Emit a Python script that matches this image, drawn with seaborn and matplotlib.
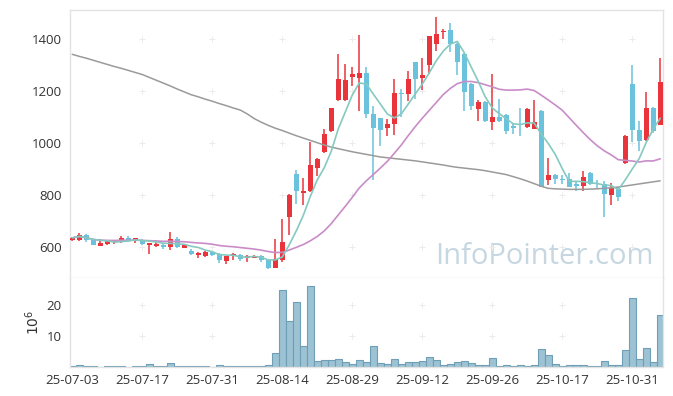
import numpy as np
import pandas as pd
import matplotlib
matplotlib.use("Agg")
import matplotlib.pyplot as plt
import seaborn as sns

# ---------------- data ----------------
start_date = "2025-07-03"
end_date = "2025-11-06"
holidays = ["2025-08-15", "2025-10-03", "2025-10-06", "2025-10-07",
            "2025-10-08", "2025-10-09"]

open_ = [624, 624, 645, 624, 604, 611, 616, 616, 632, 627,
         627, 608, 604, 607, 598, 630, 596, 583, 567, 562,
         580, 573, 546, 563, 568, 555, 558, 562, 550, 519,
         550, 716, 880, 808, 813, 903, 964, 1045, 1165, 1165,
         1254, 1250, 1270, 1112, 1097, 1057, 1072, 1192, 1190, 1314,
         1252, 1301, 1383, 1428, 1435, 1383, 1344, 1228, 1132, 1157,
         1080, 1099, 1106, 1067, 1075, 1061, 1054, 1125, 857, 877,
         860, 861, 841, 834, 885, 843, 841, 798, 822, 921,
         1228, 1050, 1012, 1135, 1071]
high = [639, 654, 647, 628, 628, 626, 627, 641, 641, 635,
        630, 615, 618, 609, 658, 637, 610, 590, 581, 582,
        585, 576, 565, 574, 573, 568, 567, 567, 551, 628,
        707, 803, 895, 865, 1003, 941, 1052, 1135, 1342, 1306,
        1293, 1418, 1293, 1144, 1097, 1092, 1248, 1208, 1277, 1314,
        1328, 1411, 1487, 1441, 1461, 1385, 1346, 1230, 1164, 1160,
        1267, 1170, 1110, 1072, 1135, 1135, 1166, 1127, 942, 880,
        877, 884, 848, 890, 888, 857, 854, 844, 831, 1030,
        1299, 1086, 1196, 1139, 1328]
low = [621, 621, 618, 605, 602, 607, 612, 613, 618, 613,
       605, 571, 600, 591, 586, 596, 594, 569, 555, 560,
       565, 535, 532, 547, 543, 542, 555, 542, 515, 517,
       540, 644, 766, 760, 810, 874, 962, 1043, 1163, 1163,
       1221, 1125, 1097, 857, 990, 1028, 1031, 1100, 1160, 1170,
       1203, 1267, 1355, 1400, 1351, 1261, 1125, 1128, 1086, 1080,
       1050, 1080, 1035, 1035, 1028, 1058, 1052, 830, 839, 842,
       842, 830, 816, 816, 838, 828, 715, 761, 777, 918,
       1002, 970, 1008, 1040, 1071]
close = [634, 645, 624, 608, 613, 621, 622, 632, 622, 632,
         609, 614, 612, 598, 630, 600, 605, 573, 576, 580,
         569, 549, 564, 571, 551, 562, 564, 547, 519, 551,
         618, 800, 816, 816, 916, 939, 1035, 1133, 1248, 1241,
         1266, 1271, 1110, 1057, 1050, 1074, 1191, 1187, 1248, 1246,
         1261, 1411, 1419, 1433, 1383, 1312, 1196, 1141, 1157, 1084,
         1099, 1084, 1045, 1057, 1070, 1132, 1080, 832, 877, 860,
         857, 832, 834, 870, 841, 840, 803, 825, 790, 1028,
         1050, 1006, 1135, 1048, 1237]
volume = [0.2, 0.5, 0.2, 0.2, 0.03, 0.2, 0.2, 0.2, 0.03, 0.2,
          0.2, 0.9, 0.2, 0.2, 1.2, 0.2, 0.2, 0.2, 0.2, 0.2,
          0.03, 0.5, 0.2, 0.2, 0.2, 0.2, 0.2, 0.2, 0.4, 4.5,
          24.9, 14.8, 21.0, 6.7, 26.2, 1.7, 2.2, 2.2, 2.5, 1.5,
          0.9, 2.1, 1.5, 6.7, 1.2, 0.9, 2.4, 0.9, 1.5, 1.5,
          1.8, 3.0, 2.2, 0.5, 0.9, 1.5, 1.7, 1.1, 0.4, 0.4,
          2.7, 0.1, 0.4, 0.1, 0.4, 0.1, 0.4, 5.7, 3.7, 0.8,
          0.1, 0.4, 0.4, 0.4, 0.1, 0.1, 1.7, 0.4, 0.4, 5.3,
          22.3, 2.4, 6.0, 1.4, 16.7]
# 120-day moving average (needs earlier history)
ma120 = [1342, 1334, 1327, 1319, 1311, 1303, 1295, 1288, 1280, 1272,
         1264, 1253, 1242, 1231, 1220, 1208, 1197, 1186, 1178, 1169,
         1161, 1152, 1144, 1135, 1127, 1112, 1094, 1080, 1068, 1057,
         1048, 1038, 1028, 1019, 1010, 1001, 992, 984, 978, 972,
         966, 961, 956, 951, 946, 943, 940, 937, 934, 931,
         927, 923, 919, 915, 910, 906, 903, 900, 897, 893,
         888, 883, 878, 870, 862, 853, 843, 833, 825, 823,
         822, 821, 821, 821, 822, 823, 825, 827, 830, 834,
         838, 842, 846, 850, 854]
yticks_main = [600, 800, 1000, 1200, 1400]
yticks_vol = [10, 20]

# ---------------- derived ----------------
dates = [d for d in pd.bdate_range(start_date, end_date)
         if d.strftime("%Y-%m-%d") not in holidays]
df = pd.DataFrame({"date": dates, "open": open_, "high": high, "low": low,
                   "close": close, "volume": volume, "ma120": ma120})
df["idx"] = np.arange(len(df))
df["ma5"] = df["close"].rolling(5, min_periods=1).mean()
df["ma20"] = df["close"].rolling(20, min_periods=1).mean()
tick_idx = list(range(0, len(df), 10))
tick_lbl = [df["date"][i].strftime("%y-%m-%d") for i in tick_idx]

# ---------------- style ----------------
sns.set_theme(style="white")
plt.rcParams["font.family"] = ["Open Sans", "DejaVu Sans"]
RED = "#e8343a"
BLUE = "#6bc2dc"
SPINE = "#e3e3e3"
TXT = "#333333"

fig = plt.figure(figsize=(6.73, 3.96), dpi=100)
W, H = 673, 396
L, R = 69.5, 663.0
ax = fig.add_axes([L / W, 1 - 278 / H, (R - L) / W, (278 - 10) / H])
axv = fig.add_axes([L / W, 1 - 366.7 / H, (R - L) / W, (366.7 - 278) / H], sharex=ax)

# candles
up = df["close"] >= df["open"]
colors = np.where(up, RED, BLUE)
body_lo = np.minimum(df["open"], df["close"])
body_h = np.maximum(np.abs(df["close"] - df["open"]), 2.0)
ax.vlines(df["idx"], df["low"], df["high"], colors=colors, lw=1.1, zorder=2)
ax.bar(df["idx"], body_h, bottom=body_lo, width=0.72, color=colors,
       linewidth=0, zorder=3)

# moving averages
sns.lineplot(data=df, x="idx", y="ma120", ax=ax, color="#9a9a9a", lw=1.1, zorder=4)
sns.lineplot(data=df, x="idx", y="ma20", ax=ax, color="#c98cc8", lw=1.2, zorder=4)
sns.lineplot(data=df, x="idx", y="ma5", ax=ax, color="#85c9c0", lw=1.2, zorder=4)

ax.set_xlim(-0.4, 84.4)
ax.set_ylim(479, 1513)
ax.set_yticks(yticks_main)
ax.set_xticks(tick_idx)
ax.tick_params(axis="x", labelbottom=False)
ax.set_xlabel("")
ax.set_ylabel("")

# grid crosses
gx, gy = np.meshgrid(tick_idx[1:], yticks_main)
ax.scatter(gx.ravel(), gy.ravel(), marker="+", s=18, color="#ebebeb",
           linewidths=0.7, zorder=1)

ax.text(0.80, 0.08, "InfoPointer.com", transform=ax.transAxes,
        ha="center", va="center", fontsize=21, color="#c6d7e1", zorder=0)

# volume
axv.bar(df["idx"], df["volume"], width=1.0, color="#9cc2d3",
        edgecolor="#6f9fb6", linewidth=0.8, zorder=2)
axv.set_ylim(0, 28.8)
axv.set_yticks(yticks_vol)
axv.set_xticks(tick_idx)
axv.set_xticklabels(tick_lbl)
gx2, gy2 = np.meshgrid(tick_idx[1:], yticks_vol)
axv.scatter(gx2.ravel(), gy2.ravel(), marker="+", s=18, color="#ebebeb",
            linewidths=0.7, zorder=1)
axv.set_ylabel(r"$10^6$", fontsize=10, color=TXT, labelpad=3)

for a in (ax, axv):
    for s in a.spines.values():
        s.set_color(SPINE)
        s.set_linewidth(1.0)
    a.tick_params(axis="both", direction="inout", length=5, width=0.8,
                  color=SPINE, labelsize=9.5, labelcolor=TXT, pad=3)
axv.spines["top"].set_visible(False)

fig.savefig("out.png", dpi=100)
